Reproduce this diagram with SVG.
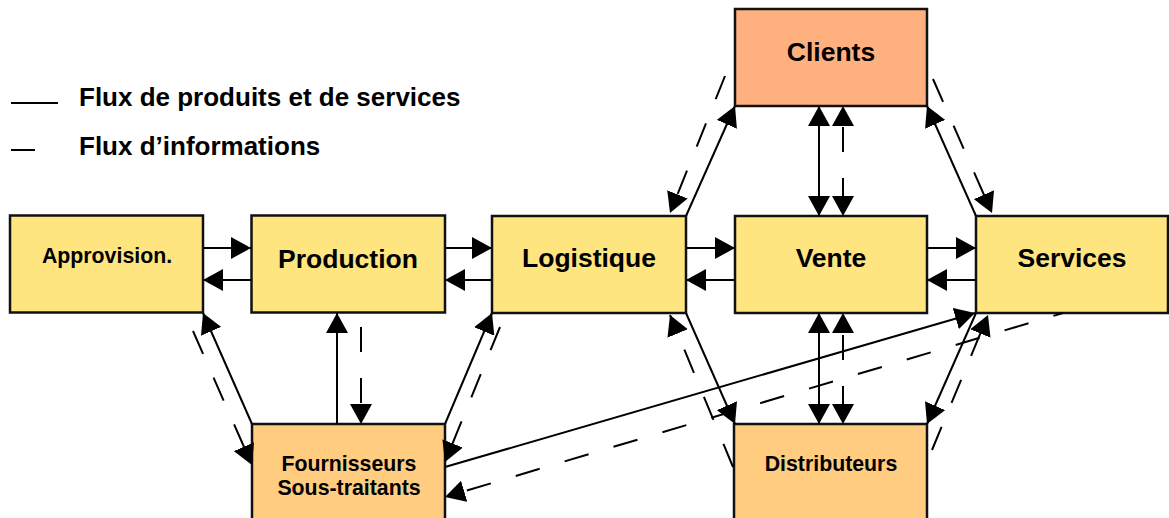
<svg xmlns="http://www.w3.org/2000/svg" width="1169" height="518" viewBox="0 0 1169 518">
<style>
.box{stroke:#111;stroke-width:2.5}
.y{fill:#FFE57F}
.o{fill:#FFCC80}
.s{fill:#FFB07F}
text{font-family:"Liberation Sans",Arial,sans-serif;font-weight:bold;fill:#000;text-anchor:middle}
.big{font-size:26.5px}
.sm{font-size:21.3px}
.leg{font-size:26px;text-anchor:start}
.c{fill:none;stroke:#000;stroke-width:2}
.d{stroke-dasharray:25 26}
.a{marker-end:url(#ah)}
.b{marker-start:url(#ah);marker-end:url(#ah)}
</style>
<defs>
<marker id="ah" markerUnits="userSpaceOnUse" markerWidth="20" markerHeight="22" refX="20" refY="11" orient="auto-start-reverse" viewBox="0 0 20 22">
<path d="M0,0 L20,11 L0,22 z" fill="#000"/>
</marker>
</defs>

<g id="legend">
<line x1="11" y1="103" x2="58" y2="103" stroke="#000" stroke-width="2"/>
<text class="leg" x="79" y="106">Flux de produits et de services</text>
<line x1="11" y1="150" x2="35" y2="150" stroke="#000" stroke-width="2"/>
<text class="leg" x="79" y="155">Flux d’informations</text>
</g>

<g id="approvision"><rect class="box y" x="10" y="215.5" width="193" height="97"/><text class="sm" x="107" y="263">Approvision.</text></g>
<g id="production"><rect class="box y" x="251.5" y="215.5" width="193.5" height="97"/><text class="big" x="348" y="268">Production</text></g>
<g id="logistique"><rect class="box y" x="492" y="216" width="194" height="97"/><text class="big" x="589" y="267">Logistique</text></g>
<g id="vente"><rect class="box y" x="735" y="216" width="192" height="97"/><text class="big" x="831" y="267">Vente</text></g>
<g id="services"><rect class="box y" x="976" y="216" width="192" height="97"/><text class="big" x="1072" y="267">Services</text></g>
<g id="clients"><rect class="box s" x="735" y="9" width="192" height="97"/><text class="big" x="831" y="61">Clients</text></g>
<g id="fournisseurs"><rect class="box o" x="252" y="424" width="193" height="110"/><text class="sm" x="349" y="471">Fournisseurs</text><text class="sm" x="349" y="495">Sous-traitants</text></g>
<g id="distributeurs"><rect class="box o" x="734" y="424" width="193" height="110"/><text class="sm" x="831" y="471">Distributeurs</text></g>

<g id="connectors">
<!-- horizontal product flows -->
<line class="c a" x1="203" y1="248" x2="251" y2="248"/>
<line class="c a" x1="251" y1="280" x2="203" y2="280"/>
<line class="c a" x1="445" y1="248" x2="492" y2="248"/>
<line class="c a" x1="492" y1="280" x2="445" y2="280"/>
<line class="c a" x1="686" y1="248" x2="735" y2="248"/>
<line class="c a" x1="735" y1="280" x2="686" y2="280"/>
<line class="c a" x1="927" y1="248" x2="976" y2="248"/>
<line class="c a" x1="976" y1="280" x2="927" y2="280"/>

<!-- Clients links -->
<line class="c a" x1="686" y1="216" x2="735" y2="106"/>
<line class="c d a" x1="725" y1="76" x2="670" y2="213"/>
<line class="c a" x1="976" y1="216" x2="927" y2="106"/>
<line class="c d a" x1="933" y1="79" x2="992" y2="213"/>
<line class="c b" x1="819" y1="106" x2="819" y2="216"/>
<line class="c d b" x1="843" y1="106" x2="843" y2="216" stroke-dashoffset="30"/>

<!-- Vente - Distributeurs -->
<line class="c b" x1="819" y1="313" x2="819" y2="424"/>
<line class="c d b" x1="843" y1="313" x2="843" y2="424" stroke-dashoffset="29"/>

<!-- Fournisseurs links -->
<line class="c a" x1="252" y1="424" x2="203" y2="313"/>
<line class="c d a" x1="193" y1="331" x2="252" y2="465"/>
<line class="c a" x1="337" y1="424" x2="337" y2="313"/>
<line class="c d a" x1="361" y1="327" x2="361" y2="424"/>
<line class="c a" x1="445" y1="424" x2="492" y2="313"/>
<line class="c d a" x1="500" y1="327" x2="445" y2="462"/>

<!-- Distributeurs links -->
<line class="c a" x1="686" y1="313" x2="735" y2="424"/>
<line class="c d a" x1="733" y1="467" x2="670" y2="315"/>
<line class="c a" x1="976" y1="313" x2="927" y2="424"/>
<line class="c d a" x1="932" y1="450" x2="988" y2="315"/>

<!-- long links Fournisseurs - Services -->
<line class="c a" x1="445" y1="467" x2="975" y2="313"/>
<line class="c d a" x1="1063" y1="313" x2="445" y2="497" stroke-dashoffset="15"/>
</g>
</svg>
